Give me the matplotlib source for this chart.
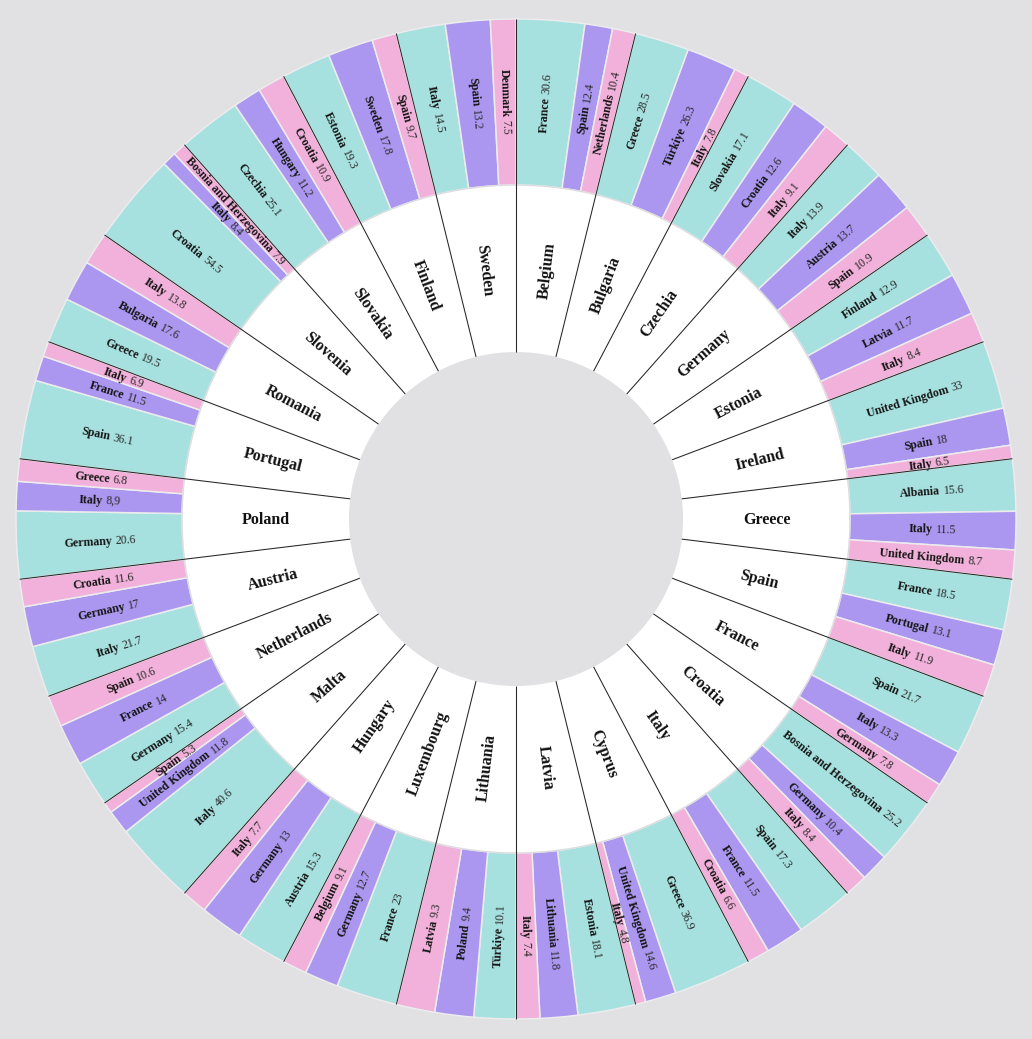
import matplotlib
matplotlib.use('Agg')
import matplotlib.pyplot as plt
from matplotlib.patches import Wedge
import numpy as np

countries = ["Belgium", "Bulgaria", "Czechia", "Germany", "Estonia", "Ireland", "Greece",
             "Spain", "France", "Croatia", "Italy", "Cyprus", "Latvia", "Lithuania",
             "Luxembourg", "Hungary", "Malta", "Netherlands", "Austria", "Poland",
             "Portugal", "Romania", "Slovenia", "Slovakia", "Finland", "Sweden"]
first_partner = ["France", "Greece", "Slovakia", "Italy", "Finland", "United Kingdom", "Albania",
                 "France", "Spain", "Bosnia and Herzegovina", "Spain", "Greece", "Estonia",
                 "Türkiye", "France", "Austria", "Italy", "Germany", "Italy", "Germany",
                 "Spain", "Greece", "Croatia", "Czechia", "Estonia", "Italy"]
first_share = [30.6, 28.5, 17.1, 13.9, 12.9, 33, 15.6, 18.5, 21.7, 25.2, 17.3, 36.9, 18.1,
               10.1, 23, 15.3, 40.6, 15.4, 21.7, 20.6, 36.1, 19.5, 54.5, 25.1, 19.3, 14.5]
second_partner = ["Spain", "Türkiye", "Croatia", "Austria", "Latvia", "Spain", "Italy",
                  "Portugal", "Italy", "Germany", "France", "United Kingdom", "Lithuania",
                  "Poland", "Germany", "Germany", "United Kingdom", "France", "Germany", "Italy",
                  "France", "Bulgaria", "Italy", "Hungary", "Sweden", "Spain"]
second_share = [12.4, 26.3, 12.6, 13.7, 11.7, 18, 11.5, 13.1, 13.3, 10.4, 11.5, 14.6, 11.8,
                9.4, 12.7, 13, 11.8, 14, 17, 8.9, 11.5, 17.6, 8.4, 11.2, 17.8, 13.2]
third_partner = ["Netherlands", "Italy", "Italy", "Spain", "Italy", "Italy", "United Kingdom",
                 "Italy", "Germany", "Italy", "Croatia", "Italy", "Italy", "Latvia", "Belgium",
                 "Italy", "Spain", "Spain", "Croatia", "Greece", "Italy", "Italy",
                 "Bosnia and Herzegovina", "Croatia", "Spain", "Denmark"]
third_share = [10.4, 7.8, 9.1, 10.9, 8.4, 6.5, 8.7, 11.9, 7.8, 8.4, 6.6, 4.8, 7.4, 9.3, 9.1,
               7.7, 5.3, 10.6, 11.6, 6.8, 6.9, 13.8, 7.9, 10.9, 9.7, 7.5]
label_overrides = {("Poland", "Italy"): "8,9"}

rank_colors = ["#a6e1df", "#ab97ef", "#f1b1da"]
BG = "#e1e1e3"
FONT = "Liberation Serif"

W, H = 1032, 1039
fig = plt.figure(figsize=(W / 100, H / 100), dpi=100, facecolor=BG)
ax = fig.add_axes([0, 0, 1, 1])
cx, cy = 516, 519
ax.set_xlim(-cx, W - cx)
ax.set_ylim(-(H - cy), cy)
ax.axis('off')
ax.set_facecolor(BG)
renderer = fig.canvas.get_renderer()

R_HOLE, R_MID, R_OUT = 167, 334, 500
n = len(countries)
sw = 360.0 / n


def measure(s, size, weight):
    t = ax.text(0, 0, s, fontsize=size, fontweight=weight, family=FONT)
    w = t.get_window_extent(renderer).width
    t.remove()
    return w


def orient(theta):
    th = np.deg2rad(theta)
    c, s = np.cos(th), np.sin(th)
    if c >= -1e-9:
        rot = theta
        u = np.array([c, s])
    else:
        rot = theta - 180
        u = np.array([-c, -s])
    nvec = np.array([-u[1], u[0]])
    return rot, u, nvec


# white ring for countries
for i in range(n):
    c0, c1 = i * sw, (i + 1) * sw
    ax.add_patch(Wedge((0, 0), R_MID, 90 - c1, 90 - c0, width=R_MID - R_HOLE,
                       facecolor="white", edgecolor="none", zorder=1))

# partner ring
CSIZE = 11.5
PSIZE = 8.6
for i in range(n):
    names = [first_partner[i], second_partner[i], third_partner[i]]
    vals = [first_share[i], second_share[i], third_share[i]]
    tot = sum(vals)
    c0 = i * sw
    cum = 0.0
    for k in range(3):
        a0 = c0 + sw * cum / tot
        cum += vals[k]
        a1 = c0 + sw * cum / tot
        ax.add_patch(Wedge((0, 0), R_OUT, 90 - a1, 90 - a0, width=R_OUT - R_MID,
                           facecolor=rank_colors[k], edgecolor="#ececee", linewidth=1.1,
                           zorder=2))
        mid = 90 - (a0 + a1) / 2
        rot, u, nv = orient(mid)
        name = names[k]
        vtxt = label_overrides.get((countries[i], name), f"{vals[k]:g}")
        wn = measure(name, PSIZE, 'bold')
        wv = measure(vtxt, PSIZE, 'normal')
        gap = 0.27 * PSIZE * 100 / 72
        total = wn + gap + wv
        P = (R_MID + R_OUT) / 2 * np.array([np.cos(np.deg2rad(mid)), np.sin(np.deg2rad(mid))])
        base = P - nv * 0.33 * PSIZE * 100 / 72
        pn = base + u * (-total / 2 + wn / 2)
        pv = base + u * (total / 2 - wv / 2)
        ax.text(pn[0], pn[1], name, fontsize=PSIZE, fontweight='bold', family=FONT,
                rotation=rot, rotation_mode='anchor', ha='center', va='baseline',
                color="#151515", zorder=5)
        ax.text(pv[0], pv[1], vtxt, fontsize=PSIZE, fontweight='normal', family=FONT,
                rotation=rot, rotation_mode='anchor', ha='center', va='baseline',
                color="#2a2a2a", zorder=5)

# light arc at the ring border
theta = np.linspace(0, 2 * np.pi, 721)
ax.plot(R_MID * np.cos(theta), R_MID * np.sin(theta), color="#dcdcde", lw=0.8, zorder=3)

# separator lines between countries
for i in range(n):
    th = np.deg2rad(90 - i * sw)
    ax.plot([R_HOLE * np.cos(th), R_OUT * np.cos(th)], [R_HOLE * np.sin(th), R_OUT * np.sin(th)],
            color="#262626", lw=0.75, zorder=4, solid_capstyle='butt')

# country labels
RC = (R_HOLE + R_MID) / 2
for i, cname in enumerate(countries):
    mid = 90 - (i + 0.5) * sw
    rot, u, nv = orient(mid)
    P = RC * np.array([np.cos(np.deg2rad(mid)), np.sin(np.deg2rad(mid))])
    base = P - nv * 0.33 * CSIZE * 100 / 72
    ax.text(base[0], base[1], cname, fontsize=CSIZE, fontweight='bold', family=FONT,
            rotation=rot, rotation_mode='anchor', ha='center', va='baseline',
            color="#111111", zorder=5)

fig.savefig("out.png", dpi=100, facecolor=BG)
